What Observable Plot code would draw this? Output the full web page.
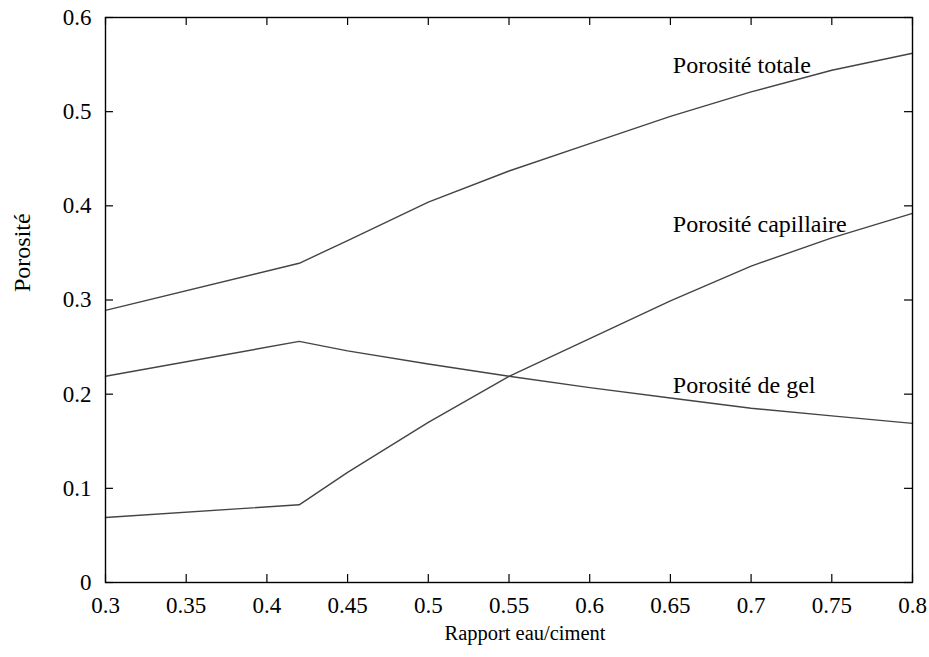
<!DOCTYPE html>
<html>
<head>
<meta charset="utf-8">
<script src="https://cdn.jsdelivr.net/npm/d3@7"></script>
<script src="https://cdn.jsdelivr.net/npm/@observablehq/plot@0.6"></script>
<style>
  html, body { margin: 0; padding: 0; background: #fff; }
  #chart { width: 929px; height: 657px; }
  #chart svg, #chart svg text { font-family: "Liberation Serif", "Times New Roman", serif !important; }
</style>
</head>
<body>
<div id="chart"></div>
<script>
// Rapport eau/ciment (x values)
const ratio = [0.3, 0.42, 0.45, 0.5, 0.55, 0.6, 0.65, 0.7, 0.75, 0.8];
// Series values (Porosité)
const porositeTotale     = [0.289, 0.339, 0.363, 0.404, 0.437, 0.466, 0.495, 0.521, 0.544, 0.562];
const porositeCapillaire = [0.069, 0.0825, 0.117, 0.170, 0.219, 0.259, 0.299, 0.336, 0.366, 0.392];
const porositeGel        = [0.219, 0.256, 0.246, 0.232, 0.219, 0.207, 0.196, 0.185, 0.177, 0.169];

const seriesNames = ["Porosité totale", "Porosité capillaire", "Porosité de gel"];
const seriesValues = [porositeTotale, porositeCapillaire, porositeGel];
// label anchors (data units)
const labelX = [0.6515, 0.6515, 0.6515];
const labelY = [0.549, 0.380, 0.209];

const xTicks = [0.3, 0.35, 0.4, 0.45, 0.5, 0.55, 0.6, 0.65, 0.7, 0.75, 0.8];
const yTicks = [0, 0.1, 0.2, 0.3, 0.4, 0.5, 0.6];
const xLabel = "Rapport eau/ciment";
const yLabel = "Porosité";

const rows = seriesNames.flatMap((name, i) =>
  ratio.map((r, j) => ({series: name, x: r, y: seriesValues[i][j]})));
const labels = seriesNames.map((name, i) => ({name, x: labelX[i], y: labelY[i]}));

const W = 929, H = 657;
const mL = 105, mR = 17, mT = 17, mB = 75;
const innerH = H - mT - mB;
const innerW = W - mL - mR;
const tickLen = 8;
const FONT = "'Liberation Serif', 'Times New Roman', serif";

const chart = Plot.plot({
  width: W,
  height: H,
  marginLeft: mL,
  marginRight: mR,
  marginTop: mT,
  marginBottom: mB,
  style: {fontFamily: FONT, fontSize: "20px", color: "#000", background: "#fff"},
  x: {domain: [0.3, 0.8]},
  y: {domain: [0, 0.6]},
  marks: [
    Plot.axisX({ticks: xTicks, tickSize: 0, tickPadding: 14, tickFormat: d => String(d), fontSize: 23, label: null}),
    Plot.axisY({ticks: yTicks, tickSize: 0, tickPadding: 14, tickFormat: d => String(d), fontSize: 23, label: null}),
    // inward ticks, bottom & top
    Plot.tickX(xTicks, {x: d => d, insetTop: innerH - tickLen, stroke: "#000", strokeWidth: 1.2}),
    Plot.tickX(xTicks, {x: d => d, insetBottom: innerH - tickLen, stroke: "#000", strokeWidth: 1.2}),
    // inward ticks, left & right
    Plot.tickY(yTicks, {y: d => d, insetRight: innerW - tickLen, stroke: "#000", strokeWidth: 1.2}),
    Plot.tickY(yTicks, {y: d => d, insetLeft: innerW - tickLen, stroke: "#000", strokeWidth: 1.2}),
    Plot.line(rows, {x: "x", y: "y", z: "series", stroke: "#444", strokeWidth: 1.4, curve: "linear"}),
    Plot.text(labels, {x: "x", y: "y", text: "name", textAnchor: "start", lineAnchor: "middle", fontSize: 24, fill: "#000", fontFamily: FONT}),
    Plot.frame({stroke: "#000", strokeWidth: 1.4}),
    // axis titles
    Plot.text([xLabel], {frameAnchor: "bottom", dx: 16, dy: 57, text: d => d, fontSize: 20.5, fill: "#000", fontFamily: FONT}),
    Plot.text([yLabel], {frameAnchor: "left", dx: -83, dy: -8, rotate: -90, text: d => d, fontSize: 24, fill: "#000", fontFamily: FONT})
  ]
});
document.getElementById("chart").appendChild(chart);
</script>
</body>
</html>
